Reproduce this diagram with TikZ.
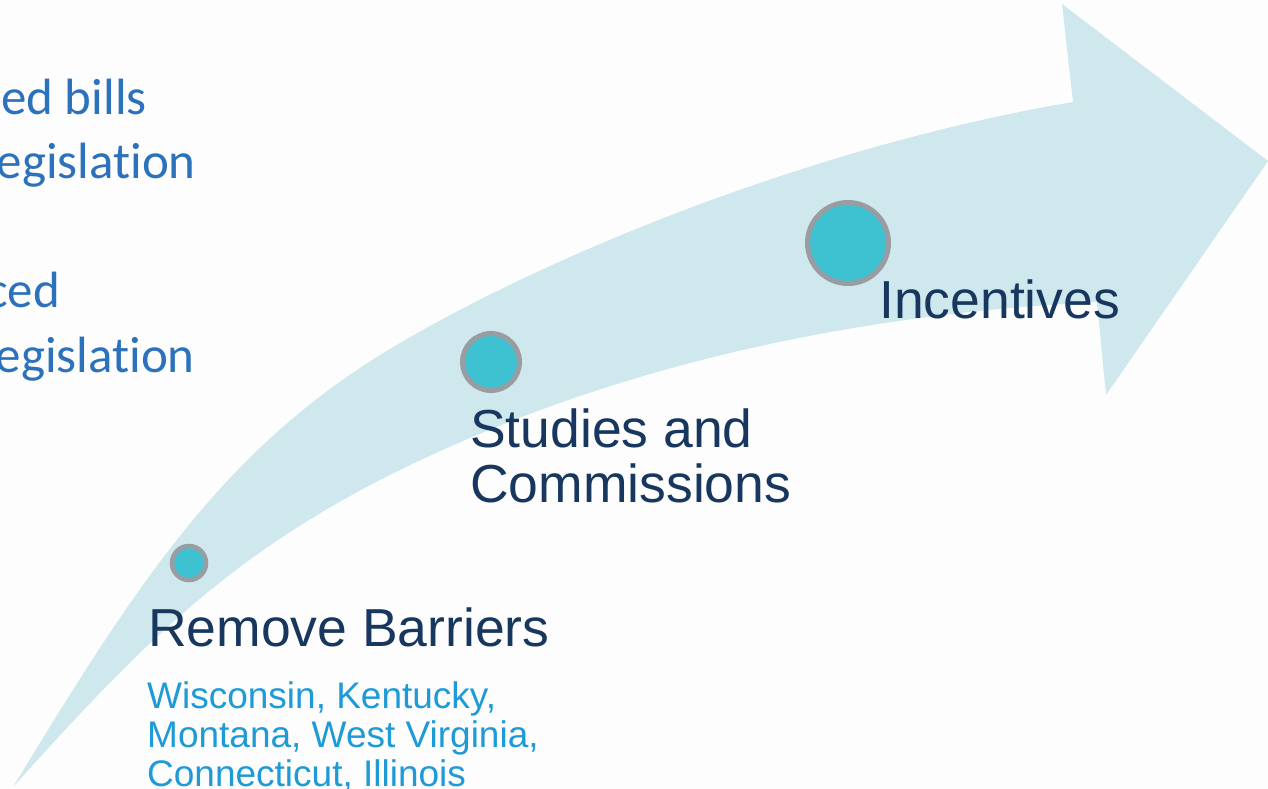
\documentclass[tikz,border=0pt]{standalone}
\usepackage{fontspec}
\setmainfont{Liberation Sans}
\newfontfamily\calibfont[Ligatures=NoCommon]{Carlito}
\definecolor{bandblue}{HTML}{CFE8ED}
\definecolor{dotfill}{HTML}{3EC1D0}
\definecolor{dotring}{HTML}{999DA1}
\definecolor{stagetext}{HTML}{17375E}
\definecolor{statetext}{HTML}{1E9BD7}
\definecolor{sidetext}{HTML}{2B71BB}
\definecolor{paper}{HTML}{FDFDFD}
\begin{document}
\begin{tikzpicture}[x=1pt,y=-1pt,
  stage/.style={anchor=base west,inner sep=0pt,text=stagetext,font=\fontsize{53.5}{55}\selectfont},
  states/.style={anchor=base west,inner sep=0pt,text=statetext,font=\fontsize{37}{39}\selectfont},
  side/.style={anchor=base east,inner sep=0pt,text=sidetext,font=\calibfont\fontsize{51}{64}\selectfont},
  dot/.style={circle,fill=dotfill,draw=dotring,inner sep=0pt}]
\useasboundingbox (0,0) rectangle (1268,789);
\clip (0,0) rectangle (1268,789);
\fill[paper] (0,0) rectangle (1268,789);

% curved band with arrow head
\fill[bandblue] (13,787)
  .. controls (140,578) and (227,444) .. (400,343)
  .. controls (573,242) and (836,142) .. (1073,102)
  -- (1062,4) -- (1268,161) -- (1106,395) -- (1097,302)
  .. controls (857,314) and (616,364) .. (400,470)
  .. controls (229,554) and (140,646) .. (13,787)
  -- cycle;

% stage markers
\node[dot,line width=4.5pt,minimum size=34pt] (c1) at (189,563) {};
\node[dot,line width=5pt,minimum size=57pt] (c2) at (491,362) {};
\node[dot,line width=5pt,minimum size=81pt] (c3) at (848,243) {};

% stage labels
\node[stage] (l1) at (148,646) {Remove Barriers};
\node[stage] (l2a) at (470,447) {Studies and};
\node[stage] (l2b) at (470,502) {Commissions};
\node[stage] (l3) at (879,318) {Incentives};

% states under the first stage
\node[states] (s1) at (147,708) {Wisconsin, Kentucky,};
\node[states] (s2) at (147,747) {Montana, West Virginia,};
\node[states] (s3) at (147,786) {Connecticut, Illinois};

% side text
\node[side] (t1) at (147,114) {ed bills};
\node[side] (t2) at (196,178) {egislation};
\node[side] (t3) at (60,307) {ced};
\node[side] (t4) at (195,372) {egislation};
\end{tikzpicture}
\end{document}
